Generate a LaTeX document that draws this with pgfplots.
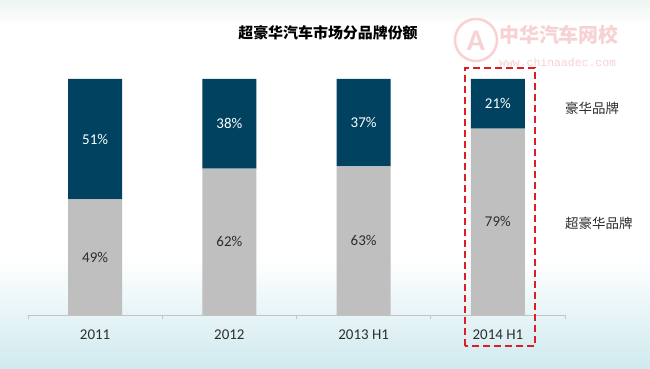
\documentclass[border=0pt]{standalone}
\usepackage{pgfplots}
\pgfplotsset{compat=1.18}
\usepackage{fontspec}
\setmainfont{Carlito}
\newfontfamily\cjk{Noto Sans CJK SC}
\newfontfamily\wmmono{Liberation Mono}
\definecolor{darkblue}{RGB}{0,66,96}
\definecolor{barGray}{RGB}{191,191,191}
\definecolor{bgcyan}{RGB}{208,234,239}
\definecolor{wmred}{RGB}{248,210,210}
\definecolor{axisgray}{RGB}{195,195,195}
\definecolor{txt}{RGB}{45,45,45}
\definecolor{boxred}{RGB}{222,30,36}
\begin{document}
\begin{tikzpicture}
\begin{scope}[x=1bp,y=1bp]
\useasboundingbox (0,0) rectangle (650,368);
\fill[white] (0,0) rectangle (650,368);
\shade[bottom color=bgcyan, top color=white] (0,0) rectangle (650,110);
\shade[top color={rgb,255:red,238;green,245;blue,241}, bottom color=white] (0,343) rectangle (650,368);
% watermark
\draw[wmred, line width=2.5bp] (476,328) circle (21);
\node[wmred, font=\bfseries\fontsize{30}{30}\selectfont] at (476,327) {A};
\node[wmred, anchor=west, inner sep=0pt, font=\cjk\bfseries\fontsize{20}{20}\selectfont] at (499,333) {中华汽车网校};
\node[wmred, anchor=west, inner sep=0pt, font=\wmmono\fontsize{11.5}{12}\selectfont] at (499,306) {www.chinaadec.com};
\end{scope}
\begin{axis}[
  at={(28bp,53bp)}, anchor=south west,
  scale only axis, width=537bp, height=236bp,
  xmin=-0.5, xmax=3.5, ymin=0, ymax=100,
  ybar stacked, bar width=54bp,
  hide y axis,
  axis x line*=bottom,
  x axis line style={draw=axisgray, line width=1bp, -},
  xtick={0,1,2,3},
  xticklabels={2011,2012,2013 H1,2014 H1},
  major tick length=0pt,
  extra x ticks={-0.5,0.5,1.5,2.5,3.5},
  extra x tick labels={},
  extra x tick style={major tick length=4bp, tick align=outside, tick style={draw=axisgray, line width=0.8bp}},
  xticklabel style={font=\fontsize{15}{17}\selectfont, text=txt, anchor=center, yshift=-20bp},
  clip=false,
]
\addplot[fill=barGray, draw=none] coordinates {(0,49) (1,62) (2,63) (3,79)};
\addplot[fill=darkblue, draw=none] coordinates {(0,51) (1,38) (2,37) (3,21)};
\coordinate (b0) at (axis cs:0,74.5);
\coordinate (b1) at (axis cs:1,81);
\coordinate (b2) at (axis cs:2,81.5);
\coordinate (b3) at (axis cs:3,89.5);
\coordinate (g0) at (axis cs:0,24.5);
\coordinate (g1) at (axis cs:1,31);
\coordinate (g2) at (axis cs:2,31.5);
\coordinate (g3) at (axis cs:3,39.5);
\end{axis}
\begin{scope}[every node/.style={font=\fontsize{15}{17}\selectfont}]
\node[text=white] at (b0) {51\%};
\node[text=white] at (b1) {38\%};
\node[text=white] at (b2) {37\%};
\node[text=white] at (b3) {21\%};
\node[text=txt] at (g0) {49\%};
\node[text=txt] at (g1) {62\%};
\node[text=txt] at (g2) {63\%};
\node[text=txt] at (g3) {79\%};
\end{scope}
\begin{scope}[x=1bp,y=1bp]
\node[font=\cjk\bfseries\fontsize{15}{16}\selectfont, text=black] at (328,335) {超豪华汽车市场分品牌份额};
\node[anchor=west, inner sep=0pt, font=\cjk\fontsize{13.5}{14}\selectfont, text=txt] at (565,260) {豪华品牌};
\node[anchor=west, inner sep=0pt, font=\cjk\fontsize{13.5}{14}\selectfont, text=txt] at (565,145) {超豪华品牌};
\draw[boxred, line width=2bp, dash pattern=on 7bp off 4bp] (465,22) rectangle (535,300);
\end{scope}
\end{tikzpicture}
\end{document}
